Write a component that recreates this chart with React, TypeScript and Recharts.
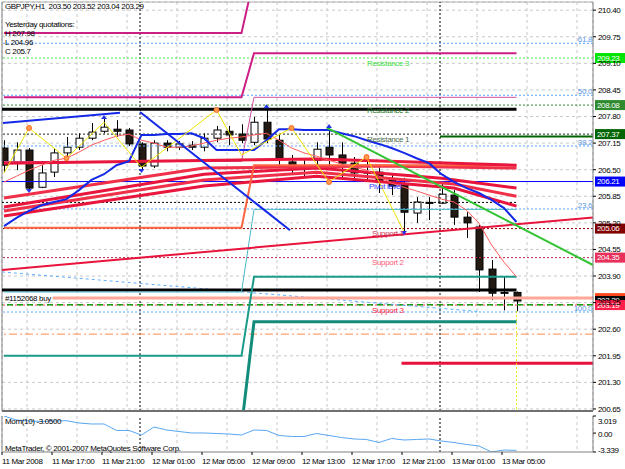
import React from "react";
import {
  ComposedChart,
  Bar,
  Line,
  XAxis,
  YAxis,
  CartesianGrid,
  ReferenceLine,
  ReferenceDot,
} from "recharts";

const FONT = "'Liberation Sans', Arial, sans-serif";
const FS = 8;
const LS = -0.35;

// GBPJPY H1, bar 0 = 11 Mar 2008 13:00
const opens = [207.03, 206.66, 206.98, 206.07, 206.44, 206.91, 207.05, 207.27, 207.44, 207.49, 207.47, 207.13, 206.59, 207.15, 207.05, 207.1, 207.05, 207.27, 207.44, 207.37, 207.17, 207.66, 207.22, 206.69, 206.56, 206.73, 207.05, 206.86, 206.66, 206.44, 206.44, 206.25, 206.12, 205.44, 205.7, 205.68, 205.88, 205.34, 205.1, 204.07, 203.48, 203.5];
const highs = [207.22, 207.17, 207.03, 206.61, 207.03, 207.3, 207.39, 207.64, 207.74, 207.71, 207.52, 207.17, 207.22, 207.22, 207.2, 207.2, 207.39, 207.57, 207.57, 207.61, 207.79, 208.0, 207.35, 206.86, 206.73, 207.17, 207.52, 207.17, 206.81, 206.73, 206.56, 206.37, 206.3, 205.83, 205.83, 206.17, 206.0, 205.46, 205.15, 204.29, 203.88, 203.52];
const lows = [206.44, 206.49, 206.0, 206.05, 206.32, 206.81, 206.98, 207.22, 207.39, 207.3, 207.08, 206.49, 206.54, 206.95, 206.98, 206.98, 206.95, 207.17, 207.1, 207.15, 207.1, 207.15, 206.56, 206.42, 206.32, 206.61, 206.61, 206.32, 206.2, 206.25, 205.93, 205.88, 204.95, 205.2, 205.27, 205.66, 205.15, 204.83, 203.51, 203.31, 203.06, 203.04];
const closes = [206.61, 206.98, 206.05, 206.42, 206.91, 207.05, 207.27, 207.42, 207.54, 207.44, 207.13, 206.59, 207.15, 207.05, 207.13, 207.05, 207.27, 207.47, 207.35, 207.22, 207.66, 207.25, 206.78, 206.61, 206.54, 207.0, 206.86, 206.66, 206.42, 206.42, 206.2, 206.1, 205.46, 205.71, 205.68, 205.9, 205.34, 205.2, 204.05, 203.48, 203.5, 203.29];

const momentum = [3.019, 2.31, 2.14, 2.05, 2.14, 2.19, 1.78, 1.61, 1.61, 0.46, 0.46, -0.34, 1.08, 0.55, 0.28, 0.02, 0.02, -0.07, -0.16, -0.34, 0.55, 0.46, -0.42, -0.6, -0.6, -0.07, -0.42, -0.78, -1.04, -1.13, -1.66, -0.95, -1.22, -1.13, -1.04, -1.4, -1.66, -2.01, -2.28, -3.339, -2.99, -3.05];

const blueWave = [205.12, 205.32, 205.49, 205.63, 205.71, 205.78, 206.0, 206.25, 206.39, 206.61, 206.71, 207.35, 207.35, 207.37, 207.37, 207.39, 207.27, 206.98, 206.98, 206.98, 206.98, 207.22, 207.49, 207.49, 207.47, 207.47, 207.47, 207.39, 207.32, 207.22, 207.13, 207.03, 206.91, 206.78, 206.66, 206.39, 206.2, 206.05, 205.93, 205.76, 205.56, 205.22];
const thinMa = [206.2, 206.34, 206.49, 206.61, 206.73, 206.78, 206.93, 207.1, 207.22, 207.32, 207.37, 207.22, 207.15, 207.05, 207.05, 207.08, 207.15, 207.22, 207.27, 207.3, 207.35, 207.39, 207.22, 207.03, 206.91, 206.83, 206.73, 206.64, 206.56, 206.49, 206.34, 206.17, 206.07, 205.98, 205.88, 205.78, 205.71, 205.51, 205.19, 204.66, 204.24, 203.88];

type Pt = [number, number];
// [bar, price] points
const zigzag: Pt[] = [[0, 206.42], [2, 207.52], [5, 206.78], [8, 207.66], [11, 206.56], [17, 207.96], [19, 206.86], [23, 207.52], [26, 206.2], [29, 206.81], [32, 204.98]];
const zigzagDotBars = [2, 5, 17, 23, 26, 29];
const fractalUp: Pt[] = [[8, 207.79], [21, 208.05], [26, 207.57]];
const fractalDown: Pt[] = [[2, 205.98], [11, 206.47], [32, 204.95]];

const magentaTop: Pt[] = [[0, 209.84], [19, 209.84], [20, 211.2], [41, 211.2]];
const magentaMid: Pt[] = [[0, 208.27], [19, 208.27], [20, 209.35], [41, 209.35]];
const magentaThin: Pt[] = [[0, 206.7], [19, 206.7], [20, 208.27], [41, 208.27]];
const orangeStep: Pt[] = [[0, 205.08], [19, 205.08], [20, 206.61], [41, 206.61]];
const tealStep: Pt[] = [[0, 201.95], [19, 201.95], [20, 203.88], [41, 203.88]];
const tealThick: Pt[] = [[0, 200.2], [19, 200.2], [20, 202.78], [41, 202.78]];
const cyanStep: Pt[] = [[0, 203.51], [19, 203.51], [20, 205.53], [41, 205.53]];

const ribbon1: Pt[] = [[0, 206.66], [25, 206.76], [41, 206.61]];
const ribbon2: Pt[] = [[0, 205.81], [16, 206.54], [30, 206.59], [41, 206.54]];
const ribbon3: Pt[] = [[0, 205.59], [16, 206.39], [25, 206.54], [35, 206.29], [41, 206.05]];
const ribbon4: Pt[] = [[0, 205.49], [16, 206.25], [25, 206.44], [36, 206.15], [41, 205.85]];
const ribbon5: Pt[] = [[0, 205.37], [16, 206.1], [25, 206.34], [36, 206.05], [41, 205.61]];

const redTrend: Pt[] = [[-0.16, 204.05], [47.12, 205.33]];
const blueTop: Pt[] = [[-0.08, 207.64], [9.28, 207.89]];
const blueDiag: Pt[] = [[10.88, 207.91], [22.88, 205.02]];
const greenTrend: Pt[] = [[25.84, 207.52], [47.12, 204.17]];
const fibSlope: Pt[] = [[-0.16, 204.0], [38.1, 203.03]];

const fibLevels = [209.59, 208.32, 207.08, 205.54, 203.02];
const fibNames = ["61.8", "50.0", "38.2", "23.6", "100.0"];
const pivotLevels = [209.23, 208.08, 207.37, 206.21, 205.06, 204.35, 203.19];
const pivotNames = ["Resistance 3", "Resistance 2", "Resistance 1", "Pivot level", "Support 1", "Support 2", "Support 3"];
const pivotLineColors = ["#50e850", "#2e8b2e", "#1c2a1c", "#0000ff", "#800000", "#a8284a", "#ff3050"];
const pivotTextColors = ["#44dd44", "#2a7a2a", "#4a6a4a", "#3a3aff", "#cc3355", "#ff5577", "#ff2244"];
const pivotLabelBar = [29.04, 29.04, 29.04, 29.2, 29.44, 29.44, 29.44];

const yesterday = { high: 207.98, low: 204.96, close: 205.7 };
const quote = { open: 203.5, high: 203.52, low: 203.04, close: 203.29 };
const blackLevels = [207.98, 203.56];
const closeDotted = 205.7;
const r1Green = 207.31;
const orderPrice = 203.36;
const greenDashed = 203.2;
const orangeDashDot = 202.48;
const crimsonLevel = 201.77;
const daySeparators = [10.88, 34.88];

const priceBoxes = [
  { v: 209.23, bg: "#00e400", fg: "#ffffff" },
  { v: 208.08, bg: "#2e8b2e", fg: "#ffffff" },
  { v: 207.37, bg: "#006400", fg: "#ffffff" },
  { v: 206.21, bg: "#0000ff", fg: "#ffffff" },
  { v: 205.06, bg: "#800000", fg: "#ffffff" },
  { v: 204.35, bg: "#e8305a", fg: "#ffffff" },
  { v: 203.36, bg: "#ff4a1c", fg: "#000000" },
  { v: 203.29, bg: "#000000", fg: "#ffffff" },
  { v: 203.19, bg: "#ff1f48", fg: "#ffffff" },
];

const priceTicks = [200.65, 201.3, 201.95, 202.6, 203.25, 203.9, 204.55, 205.2, 205.85, 206.5, 207.15, 207.8, 208.45, 209.1, 209.75, 210.4];
const momTicks = [3.019, 0, -3.339];
const timeLabels = ["11 Mar 2008", "11 Mar 17:00", "11 Mar 21:00", "12 Mar 01:00", "12 Mar 05:00", "12 Mar 09:00", "12 Mar 13:00", "12 Mar 17:00", "12 Mar 21:00", "13 Mar 01:00", "13 Mar 05:00"];

const X_DOMAIN: [number, number] = [-0.16, 47.12];
const gridTicks = Array.from({ length: 24 }, (_, k) => -0.16 + 2 * k);
const labelTicks = timeLabels.map((_, k) => 4 * k - 0.16);

const rows: Record<string, any>[] = opens.map((o, i) => ({
  i,
  o,
  h: highs[i],
  l: lows[i],
  c: closes[i],
  range: [lows[i], highs[i]],
  wave: blueWave[i],
  ma: thinMa[i],
  mom: momentum[i],
}));
const put = (key: string, pts: Pt[]) =>
  pts.forEach(([b, v]) => {
    rows[b][key] = v;
  });
put("magTop", magentaTop);
put("magMid", magentaMid);
put("magThin", magentaThin);
put("orange", orangeStep);
put("teal", tealStep);
put("tealThick", tealThick);
put("cyan", cyanStep);
put("r1", ribbon1);
put("r2", ribbon2);
put("r3", ribbon3);
put("r4", ribbon4);
put("r5", ribbon5);
put("zz", zigzag);
put("zzDot", zigzag.filter(([b]) => zigzagDotBars.includes(b)));
put("frUp", fractalUp);
put("frDn", fractalDown);

const Candle = (props: any) => {
  const { x, y, width, height, payload } = props;
  if (!payload || x == null || y == null) return <g />;
  const top = Math.min(y, y + height);
  const span = Math.abs(height);
  const k = span / (payload.h - payload.l || 1);
  const yo = top + (payload.h - payload.o) * k;
  const yc = top + (payload.h - payload.c) * k;
  const cx = Math.round(x + width / 2) + 0.5;
  const bull = payload.c >= payload.o;
  const bt = Math.min(yo, yc);
  const bh = Math.max(Math.abs(yo - yc), 1);
  return (
    <g>
      <line x1={cx} x2={cx} y1={top} y2={top + span} stroke="#000" />
      <rect x={cx - 3.5} y={bt} width={7} height={bh} fill={bull ? "#fff" : "#231a14"} stroke="#000" />
    </g>
  );
};

const OrangeDot = (p: any) =>
  p.value == null || p.cy == null ? (
    <g key={p.key} />
  ) : (
    <circle key={p.key} cx={p.cx} cy={p.cy} r={2.5} fill="#ff9a50" stroke="#ff6a20" />
  );

const ArrowUp = (p: any) =>
  p.value == null || p.cy == null ? (
    <g key={p.key} />
  ) : (
    <path key={p.key} d={`M${p.cx - 3},${p.cy + 2}L${p.cx},${p.cy - 2}L${p.cx + 3},${p.cy + 2}Z`} fill="#2236e6" />
  );

const ArrowDown = (p: any) =>
  p.value == null || p.cy == null ? (
    <g key={p.key} />
  ) : (
    <path key={p.key} d={`M${p.cx - 3},${p.cy - 2}L${p.cx},${p.cy + 2}L${p.cx + 3},${p.cy - 2}Z`} fill="#2236e6" />
  );

const PriceBox = ({ viewBox, box }: any) => {
  if (!viewBox) return null;
  const x = viewBox.x + viewBox.width + 2;
  const y = viewBox.y;
  return (
    <g>
      <rect x={x} y={y - 5} width={30} height={10} fill={box.bg} />
      <text x={x + 2} y={y} dominantBaseline="central" fontSize={FS} fontFamily={FONT} letterSpacing={LS} fill={box.fg}>
        {box.v.toFixed(2)}
      </text>
    </g>
  );
};

const TimeTick = ({ x, y, payload }: any) => {
  const k = Math.round((payload.value + 0.16) / 4);
  return (
    <text x={x} y={y} dy={8} fontSize={FS} fontFamily={FONT} letterSpacing={LS} fill="#000" textAnchor="start">
      {timeLabels[k]}
    </text>
  );
};

const MomTick = ({ x, y, payload }: any) => {
  const v = payload.value;
  const dy = v === momTicks[0] ? 5 : v === momTicks[2] ? -2 : 1;
  return (
    <text x={x} y={y + dy} dominantBaseline="central" fontSize={FS} fontFamily={FONT} letterSpacing={LS} fill="#000">
      {v === 0 ? "0.00" : v.toFixed(3)}
    </text>
  );
};

const seg = (p: Pt[]) => [
  { x: p[0][0], y: p[0][1] },
  { x: p[1][0], y: p[1][1] },
];

const line = { dot: false, activeDot: false, isAnimationActive: false, connectNulls: true, legendType: "none" as const };
const txt = { fontSize: FS, fontFamily: FONT, letterSpacing: LS };

const overlay: React.CSSProperties = {
  position: "absolute",
  left: 5,
  fontSize: FS,
  letterSpacing: LS,
  lineHeight: "10px",
  whiteSpace: "pre",
  color: "#000",
  fontFamily: FONT,
};

export default function App() {
  return (
    <div style={{ position: "absolute", left: 0, top: 0, width: 625, height: 469, background: "#fff", overflow: "hidden" }}>
      <div style={{ position: "absolute", left: 0, top: 0 }}>
        <ComposedChart width={625} height={413} data={rows} margin={{ top: 2, right: 0, bottom: 2, left: 2 }}>
          <CartesianGrid stroke="#c8c8c8" strokeDasharray="3 3" />
          <XAxis dataKey="i" type="number" domain={X_DOMAIN} ticks={gridTicks} hide allowDataOverflow />
          <YAxis
            orientation="right"
            width={32}
            domain={[200.6, 210.6]}
            ticks={priceTicks}
            interval={0}
            allowDataOverflow
            tickSize={3}
            tickMargin={2}
            tick={{ fill: "#000", ...txt }}
            tickFormatter={(v: number) => v.toFixed(2)}
            axisLine={{ stroke: "#808080" }}
            tickLine={{ stroke: "#000" }}
          />

          <ReferenceLine y={210.6} stroke="#b0b0b0" />
          <ReferenceLine x={X_DOMAIN[0]} stroke="#808080" />
          {daySeparators.map((d) => (
            <ReferenceLine key={"d" + d} x={d} stroke="#000" strokeDasharray="2 2" />
          ))}

          {fibLevels.map((v, k) => (
            <ReferenceLine key={"f" + k} y={v} stroke="#5aa8ff" strokeDasharray="2 2" />
          ))}
          {pivotLevels.map((v, k) => (
            <ReferenceLine
              key={"p" + k}
              y={v}
              stroke={pivotLineColors[k]}
              strokeDasharray={k === 3 ? undefined : "2 2"}
            />
          ))}
          <ReferenceLine segment={seg([[X_DOMAIN[0], closeDotted], [41, closeDotted]])} stroke="#000" strokeDasharray="2 2" />
          <ReferenceLine segment={seg([[34.88, r1Green], [X_DOMAIN[1], r1Green]])} stroke="#006400" strokeWidth={2} />
          <ReferenceLine y={greenDashed} stroke="#10a010" strokeWidth={1.5} strokeDasharray="6 4" />
          <ReferenceLine y={orangeDashDot} stroke="#ff8a50" strokeDasharray="8 3 2 3" />
          <ReferenceLine segment={seg([[31.8, crimsonLevel], [X_DOMAIN[1], crimsonLevel]])} stroke="#e8103c" strokeWidth={3} />
          <ReferenceLine segment={seg(fibSlope)} stroke="#60b0ff" strokeDasharray="3 3" ifOverflow="hidden" />
          <ReferenceLine segment={seg([[41, quote.low], [41, 200.6]])} stroke="#e8e800" strokeDasharray="2 2" />

          <Bar dataKey="range" barSize={7} shape={Candle} isAnimationActive={false} legendType="none" />

          {blackLevels.map((v) => (
            <ReferenceLine key={"b" + v} segment={seg([[X_DOMAIN[0], v], [41, v]])} stroke="#000" strokeWidth={3} />
          ))}
          <ReferenceLine segment={seg([[3.9, orderPrice], [X_DOMAIN[1], orderPrice]])} stroke="#ffa898" strokeWidth={3} />

          <Line dataKey="magTop" stroke="#cc1f86" strokeWidth={2} {...line} />
          <Line dataKey="magMid" stroke="#cc1f86" strokeWidth={2} {...line} />
          <Line dataKey="magThin" stroke="#d050a0" strokeWidth={1} {...line} />
          <Line dataKey="teal" stroke="#1a9a8a" strokeWidth={2} {...line} />
          <Line dataKey="tealThick" stroke="#138c7c" strokeWidth={3} {...line} />
          <Line dataKey="cyan" stroke="#4ab8c8" strokeWidth={1} {...line} />
          <Line dataKey="r5" stroke="#e8163c" strokeWidth={3} {...line} />
          <Line dataKey="r4" stroke="#f03048" strokeWidth={3} {...line} />
          <Line dataKey="r3" stroke="#e8163c" strokeWidth={3} {...line} />
          <Line dataKey="r2" stroke="#f03048" strokeWidth={3} {...line} />
          <Line dataKey="orange" stroke="#ff6440" strokeWidth={2} {...line} />
          <Line dataKey="r1" stroke="#e8163c" strokeWidth={3} {...line} />
          <Line dataKey="ma" stroke="#ff5a5a" strokeWidth={1} {...line} />
          <Line dataKey="wave" stroke="#1428e8" strokeWidth={2} {...line} />
          <Line dataKey="zz" stroke="#f0e400" strokeWidth={1} {...line} />
          <Line dataKey="zzDot" stroke="none" {...line} dot={OrangeDot} />
          <Line dataKey="frUp" stroke="none" {...line} dot={ArrowUp} />
          <Line dataKey="frDn" stroke="none" {...line} dot={ArrowDown} />

          <ReferenceLine segment={seg(redTrend)} stroke="#e8143c" strokeWidth={2} ifOverflow="hidden" />
          <ReferenceLine segment={seg(blueTop)} stroke="#1428e8" strokeWidth={2} ifOverflow="hidden" />
          <ReferenceLine segment={seg(blueDiag)} stroke="#1428e8" strokeWidth={2} ifOverflow="hidden" />
          <ReferenceLine segment={seg(greenTrend)} stroke="#33c433" strokeWidth={2} ifOverflow="hidden" />

          {pivotLevels.map((v, k) => (
            <ReferenceDot
              key={"pl" + k}
              x={pivotLabelBar[k]}
              y={v}
              r={0}
              stroke="none"
              fill="none"
              label={{ value: pivotNames[k], position: "right", offset: 0, dy: 5, fill: pivotTextColors[k], ...txt }}
            />
          ))}
          {fibLevels.map((v, k) => (
            <ReferenceDot
              key={"fl" + k}
              x={47.04}
              y={v}
              r={0}
              stroke="none"
              fill="none"
              label={{ value: fibNames[k], position: "left", offset: 0, dy: -4, fill: "#5a9ae8", ...txt }}
            />
          ))}
          <ReferenceDot
            x={0.08}
            y={orderPrice}
            r={0}
            stroke="none"
            fill="none"
            label={{ value: "#1152068 buy", position: "right", offset: 0, fill: "#000", ...txt }}
          />

          {priceBoxes.map((b) => (
            <ReferenceLine key={"pb" + b.v} y={b.v} stroke="none" label={(p: any) => <PriceBox {...p} box={b} />} />
          ))}
          <ReferenceLine y={200.6} stroke="#707070" strokeWidth={2} />
        </ComposedChart>
      </div>

      <div style={{ position: "absolute", left: 0, top: 413 }}>
        <ComposedChart width={625} height={56} data={rows} margin={{ top: 3, right: 0, bottom: 0, left: 2 }}>
          <XAxis
            xAxisId="lab"
            dataKey="i"
            type="number"
            domain={X_DOMAIN}
            ticks={labelTicks}
            interval={0}
            allowDataOverflow
            height={17}
            tickSize={3}
            tickMargin={1}
            tick={TimeTick}
            axisLine={{ stroke: "#808080" }}
            tickLine={{ stroke: "#000" }}
          />
          <XAxis
            xAxisId="grid"
            orientation="top"
            height={0}
            dataKey="i"
            type="number"
            domain={X_DOMAIN}
            ticks={gridTicks}
            hide
            allowDataOverflow
          />
          <CartesianGrid xAxisId="grid" horizontal={false} stroke="#c8c8c8" strokeDasharray="3 3" />
          <YAxis
            orientation="right"
            width={32}
            domain={[momTicks[2], momTicks[0]]}
            ticks={momTicks}
            interval={0}
            allowDataOverflow
            tickSize={3}
            tickMargin={2}
            tick={MomTick}
            axisLine={{ stroke: "#808080" }}
            tickLine={{ stroke: "#000" }}
          />
          <ReferenceLine xAxisId="lab" x={X_DOMAIN[0]} stroke="#808080" />
          {daySeparators.map((d) => (
            <ReferenceLine key={"md" + d} xAxisId="lab" x={d} stroke="#000" strokeDasharray="2 2" />
          ))}
          <Line xAxisId="lab" dataKey="mom" stroke="#5aa7f2" strokeWidth={1} {...line} />
        </ComposedChart>
      </div>

      <div style={{ ...overlay, top: 2 }}>
        {`GBPJPY,H1  ${quote.open.toFixed(2)} ${quote.high.toFixed(2)} ${quote.low.toFixed(2)} ${quote.close.toFixed(2)}`}
      </div>
      <div style={{ ...overlay, top: 20 }}>Yesterday quotations:</div>
      <div style={{ ...overlay, top: 29 }}>{`H ${yesterday.high}`}</div>
      <div style={{ ...overlay, top: 38 }}>{`L ${yesterday.low}`}</div>
      <div style={{ ...overlay, top: 47 }}>{`C ${yesterday.close}`}</div>
      <div style={{ ...overlay, top: 417 }}>{`Mom(10) ${momentum[momentum.length - 1].toFixed(4)}`}</div>
      <div style={{ ...overlay, top: 444 }}>MetaTrader, © 2001-2007 MetaQuotes Software Corp.</div>
    </div>
  );
}
